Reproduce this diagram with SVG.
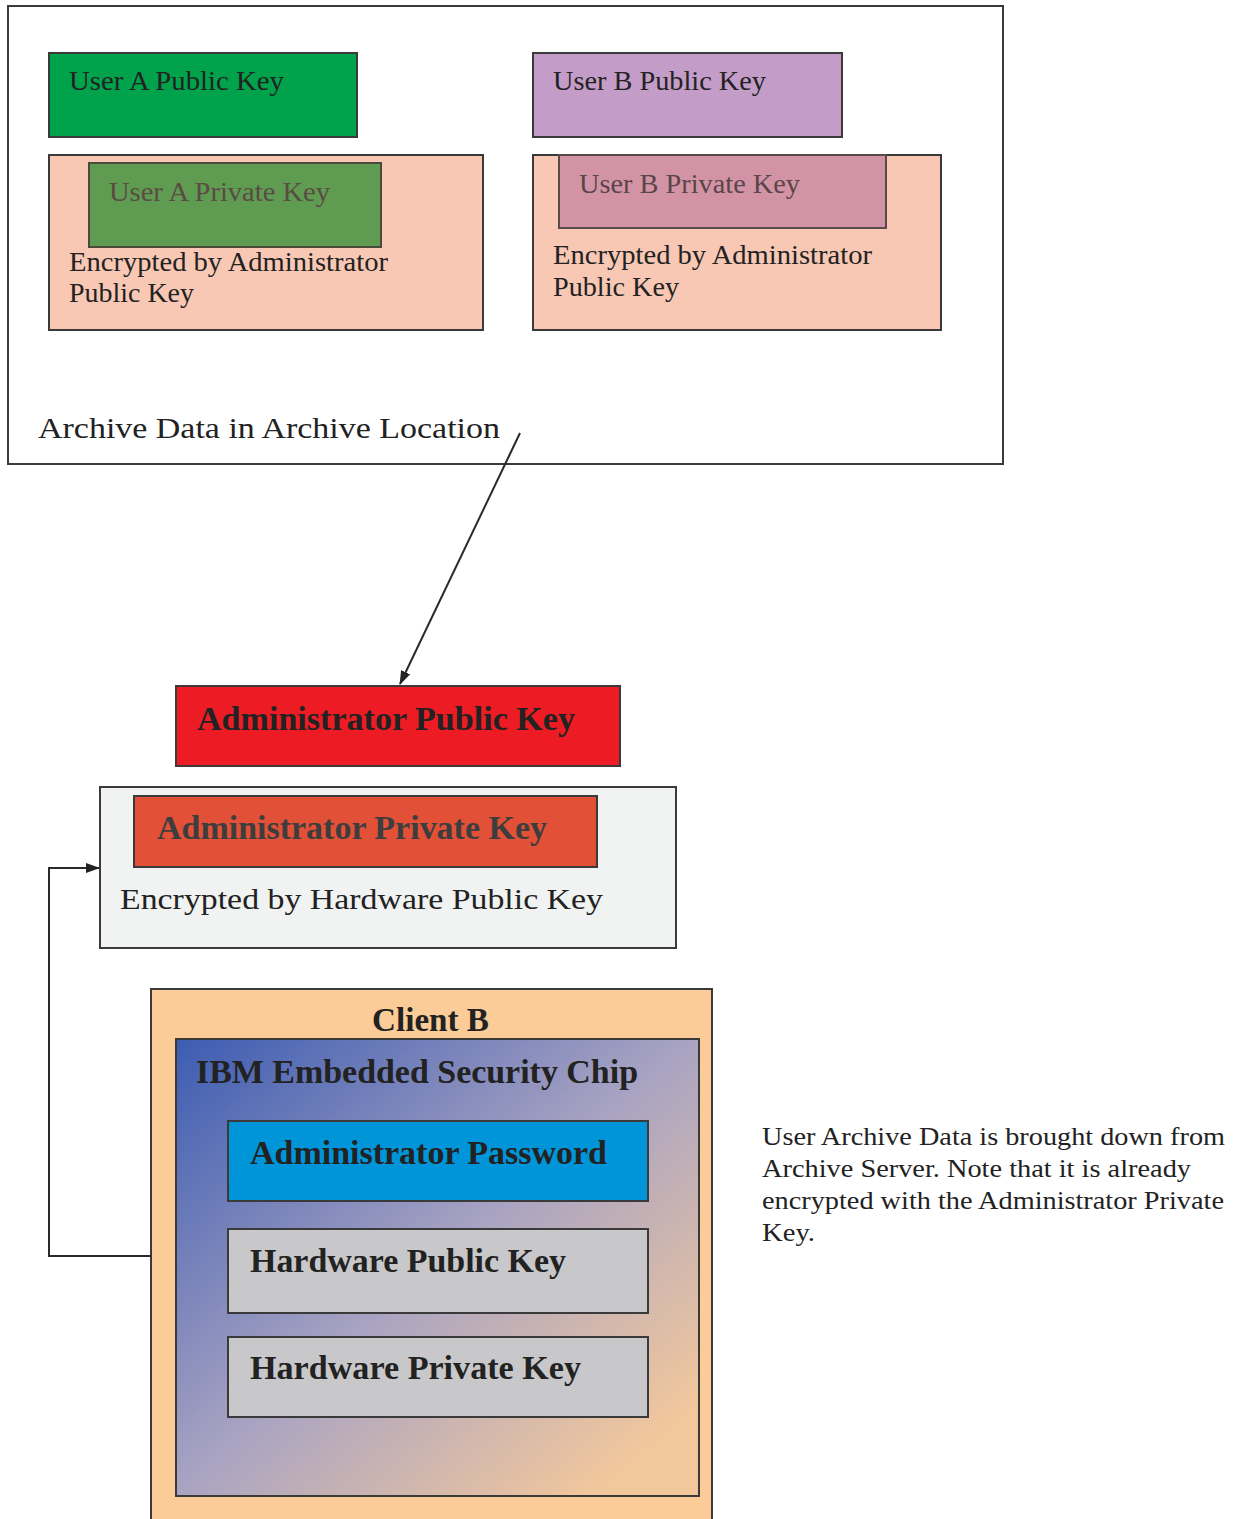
<svg xmlns="http://www.w3.org/2000/svg" width="1234" height="1519" viewBox="0 0 1234 1519">
  <style>
    .box { stroke: #3a3a3a; stroke-width: 2; }
    .t { font-family: "Liberation Serif", "DejaVu Serif", serif; fill: #222; }
    .lbl { font-size: 27px; }
    .note { font-size: 25px; }
    .big { font-size: 34px; font-weight: bold; }
    .conn { fill: none; stroke: #2a2a2a; stroke-width: 2; }
  </style>
  <defs>
    <marker id="arrow" viewBox="0 0 14 10" refX="13" refY="5" markerWidth="14" markerHeight="10" orient="auto" markerUnits="userSpaceOnUse">
      <path d="M0,0 L14,5 L0,10 z" fill="#222"/>
    </marker>
    <linearGradient id="chipGrad" x1="0" y1="0" x2="1" y2="1">
      <stop offset="0" stop-color="#3c5cb2"/>
      <stop offset="0.5" stop-color="#aaa4c2"/>
      <stop offset="0.9" stop-color="#f2c79c"/>
    </linearGradient>
  </defs>

  <rect width="1234" height="1519" fill="#ffffff"/>

  <!-- Archive location -->
  <g id="archive">
    <rect x="8" y="6" width="995" height="458" fill="#ffffff" class="box"/>
    <text x="38" y="438" class="t" font-size="30" textLength="462" lengthAdjust="spacingAndGlyphs">Archive Data in Archive Location</text>
  </g>

  <g id="userA-public">
    <rect x="49" y="53" width="308" height="84" fill="#00a34b" class="box"/>
    <text x="69" y="90" class="t lbl" textLength="215" lengthAdjust="spacingAndGlyphs">User A Public Key</text>
  </g>

  <g id="userA-private">
    <rect x="49" y="155" width="434" height="175" fill="#f8c8b4" class="box"/>
    <rect x="89" y="163" width="292" height="84" fill="#5f9b50" stroke="#4a4a3a" stroke-width="2"/>
    <text x="109" y="201" class="t lbl" style="fill:#5a4b44" textLength="221" lengthAdjust="spacingAndGlyphs">User A Private Key</text>
    <text x="69" y="271" class="t lbl" textLength="319" lengthAdjust="spacingAndGlyphs">Encrypted by Administrator</text>
    <text x="69" y="302" class="t lbl" textLength="125" lengthAdjust="spacingAndGlyphs">Public Key</text>
  </g>

  <g id="userB-public">
    <rect x="533" y="53" width="309" height="84" fill="#c49cc8" class="box"/>
    <text x="553" y="90" class="t lbl" textLength="213" lengthAdjust="spacingAndGlyphs">User B Public Key</text>
  </g>

  <g id="userB-private">
    <rect x="533" y="155" width="408" height="175" fill="#f8c8b4" class="box"/>
    <rect x="559" y="155" width="327" height="73" fill="#d393a6" stroke="#5a4a4a" stroke-width="2"/>
    <text x="579" y="193" class="t lbl" style="fill:#5a4548" textLength="221" lengthAdjust="spacingAndGlyphs">User B Private Key</text>
    <text x="553" y="264" class="t lbl" textLength="319" lengthAdjust="spacingAndGlyphs">Encrypted by Administrator</text>
    <text x="553" y="296" class="t lbl" textLength="126" lengthAdjust="spacingAndGlyphs">Public Key</text>
  </g>

  <g id="admin-public">
    <rect x="176" y="686" width="444" height="80" fill="#ed1c24" class="box"/>
    <text x="197" y="730" class="t big" textLength="378" lengthAdjust="spacingAndGlyphs">Administrator Public Key</text>
  </g>

  <g id="admin-private">
    <rect x="100" y="787" width="576" height="161" fill="#f1f2f2" class="box"/>
    <rect x="134" y="796" width="463" height="71" fill="#e25038" class="box"/>
    <text x="157" y="839" class="t big" style="fill:#3d3d3d" textLength="390" lengthAdjust="spacingAndGlyphs">Administrator Private Key</text>
    <text x="120" y="909" class="t" font-size="30" textLength="483" lengthAdjust="spacingAndGlyphs">Encrypted by Hardware Public Key</text>
  </g>

  <g id="client-b">
    <rect x="151" y="989" width="561" height="540" fill="#fbcb98" class="box"/>
    <text x="372" y="1031" class="t big" textLength="117" lengthAdjust="spacingAndGlyphs">Client B</text>
  </g>

  <g id="security-chip">
    <rect x="176" y="1039" width="523" height="457" fill="url(#chipGrad)" class="box"/>
    <text x="196" y="1083" class="t big" textLength="442" lengthAdjust="spacingAndGlyphs">IBM Embedded Security Chip</text>
  </g>

  <g id="admin-password">
    <rect x="228" y="1121" width="420" height="80" fill="#0095d9" class="box"/>
    <text x="250" y="1164" class="t big" textLength="357" lengthAdjust="spacingAndGlyphs">Administrator Password</text>
  </g>

  <g id="hw-public">
    <rect x="228" y="1229" width="420" height="84" fill="#c8c8ca" class="box"/>
    <text x="250" y="1272" class="t big" textLength="316" lengthAdjust="spacingAndGlyphs">Hardware Public Key</text>
  </g>

  <g id="hw-private">
    <rect x="228" y="1337" width="420" height="80" fill="#c8c8ca" class="box"/>
    <text x="250" y="1379" class="t big" textLength="331" lengthAdjust="spacingAndGlyphs">Hardware Private Key</text>
  </g>

  <g id="note">
    <text x="762" y="1145" class="t note" textLength="463" lengthAdjust="spacingAndGlyphs">User Archive Data is brought down from</text>
    <text x="762" y="1177" class="t note" textLength="429" lengthAdjust="spacingAndGlyphs">Archive Server. Note that it is already</text>
    <text x="762" y="1209" class="t note" textLength="462" lengthAdjust="spacingAndGlyphs">encrypted with the Administrator Private</text>
    <text x="762" y="1241" class="t note" textLength="53" lengthAdjust="spacingAndGlyphs">Key.</text>
  </g>

  <!-- Connectors -->
  <g id="connectors">
    <path class="conn" d="M520,433 L400,684" marker-end="url(#arrow)"/>
    <path class="conn" d="M151,1256 L49,1256 L49,868 L99,868" marker-end="url(#arrow)"/>
  </g>
</svg>
